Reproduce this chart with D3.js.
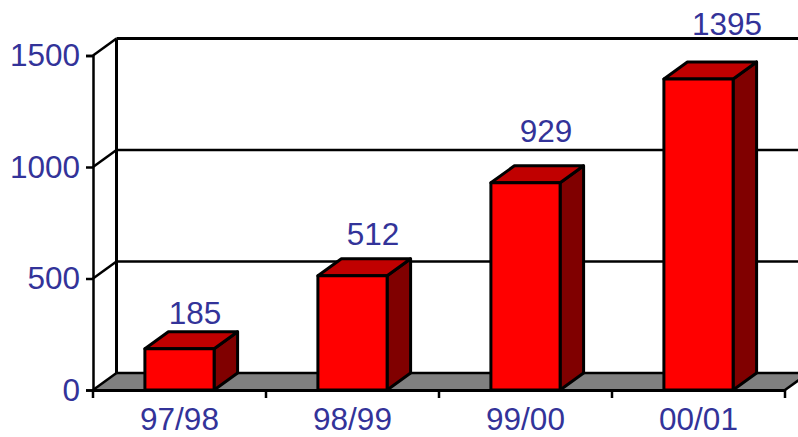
<!DOCTYPE html>
<html>
<head>
<meta charset="utf-8">
<script src="https://cdn.jsdelivr.net/npm/d3@7"></script>
<style>
  html, body { margin: 0; padding: 0; background: #fff; overflow: hidden; }
  svg { display: block; }
  text { font-family: "Liberation Sans", Arial, sans-serif; }
</style>
</head>
<body>
<svg></svg>
<script>
const categories = ['97/98', '98/99', '99/00', '00/01'];
const values = [185, 512, 929, 1395];
const yTicks = [0, 500, 1000, 1500];

const svgWidth = 798;
const svgHeight = 437;
const plot = { left: 93, right: 785, top: 55.5, bottom: 390 };
const depth = { x: 23.5, y: -17 };
const textColor = '#333399';
const fontSize = 31.5;
const strokeW = 2.5;

const xScale = d3.scaleBand()
    .domain(categories)
    .range([plot.left, plot.right])
    .paddingInner(0.6)
    .paddingOuter(0.3);

const yScale = d3.scaleLinear()
    .domain([0, 1500])
    .range([plot.bottom, plot.top]);

// the labels drift away from the bars as the value grows, and not evenly
const labelY = d3.scaleLinear().domain(values).range([324, 245, 142, 35]);
const labelX = d3.scaleLinear().domain(values).range([15.5, 20.5, 20.5, 28.5]);

const svg = d3.select('svg')
    .attr('width', svgWidth)
    .attr('height', svgHeight);

const line = d3.line();

// floor
svg.append('path')
    .attr('d', line([
        [plot.left, plot.bottom],
        [plot.left + depth.x, plot.bottom + depth.y],
        [plot.right + depth.x, plot.bottom + depth.y],
        [plot.right, plot.bottom],
    ]) + 'Z')
    .attr('fill', '#808080');

// back wall gridlines
svg.selectAll('.grid')
    .data(yTicks)
    .enter()
    .append('line')
    .attr('class', 'grid')
    .attr('x1', plot.left + depth.x)
    .attr('x2', plot.right + depth.x)
    .attr('y1', d => yScale(d) + depth.y)
    .attr('y2', d => yScale(d) + depth.y)
    .attr('stroke', 'black')
    .attr('stroke-width', d => d === 1500 ? 3 : strokeW);

// side wall lines
svg.selectAll('.side')
    .data(yTicks)
    .enter()
    .append('line')
    .attr('class', 'side')
    .attr('x1', plot.left)
    .attr('x2', plot.left + depth.x)
    .attr('y1', d => yScale(d))
    .attr('y2', d => yScale(d) + depth.y)
    .attr('stroke', 'black')
    .attr('stroke-width', strokeW);

svg.append('line')
    .attr('x1', plot.left + depth.x)
    .attr('x2', plot.left + depth.x)
    .attr('y1', yScale(1500) + depth.y)
    .attr('y2', yScale(0) + depth.y)
    .attr('stroke', 'black')
    .attr('stroke-width', 3);

svg.append('line')
    .attr('x1', plot.right)
    .attr('x2', plot.right + depth.x)
    .attr('y1', yScale(0))
    .attr('y2', yScale(0) + depth.y)
    .attr('stroke', 'black')
    .attr('stroke-width', strokeW);

// axes
const xAxis = svg.append('g')
    .attr('transform', `translate(0, ${plot.bottom})`)
    .call(d3.axisBottom(xScale).tickValues([]).tickSize(0));
xAxis.select('.domain').attr('stroke', 'black').attr('stroke-width', 3);

// category separators sit between the bars, the band scale only gives centres
svg.selectAll('.xtick')
    .data(d3.range(categories.length + 1))
    .enter()
    .append('line')
    .attr('class', 'xtick')
    .attr('x1', i => plot.left + i * xScale.step())
    .attr('x2', i => plot.left + i * xScale.step())
    .attr('y1', plot.bottom)
    .attr('y2', plot.bottom + 8)
    .attr('stroke', 'black')
    .attr('stroke-width', strokeW);

svg.selectAll('.xlabel')
    .data(categories)
    .enter()
    .append('text')
    .attr('class', 'xlabel')
    .attr('x', d => xScale(d) + xScale.bandwidth() / 2)
    .attr('y', 430)
    .attr('text-anchor', 'middle')
    .attr('font-size', fontSize)
    .attr('fill', textColor)
    .text(d => d);

const yAxis = svg.append('g')
    .attr('transform', `translate(${plot.left}, 0)`)
    .call(d3.axisLeft(yScale).tickValues(yTicks).tickFormat(d3.format('d')).tickSize(7).tickPadding(6));
yAxis.select('.domain').attr('stroke', 'black').attr('stroke-width', strokeW);
yAxis.selectAll('.tick line').attr('stroke', 'black').attr('stroke-width', strokeW);
yAxis.selectAll('.tick text')
    .attr('font-family', '"Liberation Sans", Arial, sans-serif')
    .attr('font-size', fontSize)
    .attr('fill', textColor);

// bars
const bars = svg.selectAll('.bar')
    .data(values)
    .enter()
    .append('g')
    .attr('class', 'bar')
    .attr('stroke', 'black')
    .attr('stroke-width', 3)
    .attr('stroke-linejoin', 'round');

const x0 = (d, i) => xScale(categories[i]);
const x1 = (d, i) => x0(d, i) + xScale.bandwidth();

bars.append('path')
    .attr('fill', '#800000')
    .attr('d', (d, i) => line([
        [x1(d, i), yScale(d)],
        [x1(d, i) + depth.x, yScale(d) + depth.y],
        [x1(d, i) + depth.x, plot.bottom + depth.y],
        [x1(d, i), plot.bottom],
    ]) + 'Z');

bars.append('path')
    .attr('fill', '#c00000')
    .attr('d', (d, i) => line([
        [x0(d, i), yScale(d)],
        [x0(d, i) + depth.x, yScale(d) + depth.y],
        [x1(d, i) + depth.x, yScale(d) + depth.y],
        [x1(d, i), yScale(d)],
    ]) + 'Z');

bars.append('rect')
    .attr('fill', '#ff0000')
    .attr('x', (d, i) => x0(d, i))
    .attr('y', d => yScale(d))
    .attr('width', xScale.bandwidth())
    .attr('height', d => plot.bottom - yScale(d));

// value labels
svg.selectAll('.value')
    .data(values)
    .enter()
    .append('text')
    .attr('class', 'value')
    .attr('x', (d, i) => x0(d, i) + xScale.bandwidth() / 2 + labelX(d))
    .attr('y', d => labelY(d))
    .attr('text-anchor', 'middle')
    .attr('font-size', fontSize)
    .attr('fill', textColor)
    .text(d => d);
</script>
</body>
</html>
